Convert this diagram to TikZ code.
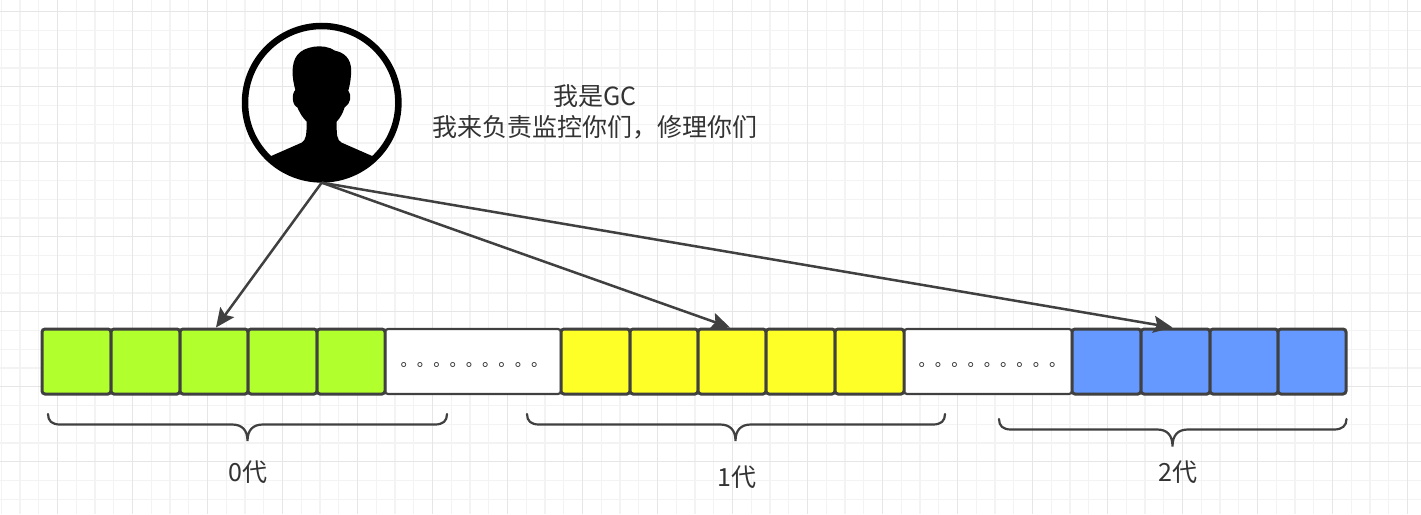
\documentclass[tikz,border=0pt]{standalone}
\usepackage{fontspec}
\newfontfamily\cjk{Noto Sans CJK SC}
\usetikzlibrary{arrows.meta}
\definecolor{lineink}{HTML}{404040}
\definecolor{textink}{HTML}{333333}
\definecolor{gridminor}{HTML}{F3F3F3}
\definecolor{gridmajor}{HTML}{E6E6E6}
\definecolor{cellgreen}{HTML}{B2FF2E}
\definecolor{cellyellow}{HTML}{FFFF28}
\definecolor{cellblue}{HTML}{6699FF}
\begin{document}
\begin{tikzpicture}[
    x=1pt,
    y=-1pt,
    >={Stealth[length=19pt,width=17pt,inset=3.5pt]},
    font=\cjk,
    cell/.style={draw=lineink,line width=3pt,rounded corners=3pt,inner sep=0pt,
        minimum height=65pt,anchor=center},
    hueco/.style={cell,line width=2.2pt,fill=white},
    puntos/.style={text=textink,inner sep=0pt,font=\cjk\fontsize{16.3}{16.3}\selectfont},
    pointer/.style={lineink,line width=2.5pt,->},
    bracket/.style={lineink,line width=2.2pt,line cap=round},
    etiqueta/.style={text=textink,inner sep=0pt,font=\cjk\fontsize{25}{31}\selectfont}
]
    \useasboundingbox (0,0) rectangle (1421,514);
    \fill[white] (0,0) rectangle (1421,514);

    % Fondo cuadriculado
    \foreach \i in {0,...,75}{
        \draw[gridminor,line width=1.3pt] (1.25+18.75*\i,0) -- (1.25+18.75*\i,514);
    }
    \foreach \i in {0,...,27}{
        \draw[gridminor,line width=1.3pt] (0,11.7+18.75*\i) -- (1421,11.7+18.75*\i);
    }
    \foreach \i in {0,...,18}{
        \draw[gridmajor,line width=1.3pt] (57.5+75*\i,0) -- (57.5+75*\i,514);
    }
    \foreach \i in {0,...,6}{
        \draw[gridmajor,line width=1.3pt] (0,11.7+75*\i) -- (1421,11.7+75*\i);
    }

    % Icono de la persona
    \begin{scope}
        \clip (321.7,102.7) circle (78);
        \begin{scope}[shift={(220,0)},x=0.3333pt,y=-0.3333pt]
            \fill[black] (140,474) -- (245,428)
                .. controls (258,420) and (260,405) .. (260,365)
                .. controls (245,350) and (238,335) .. (232,322)
                .. controls (215,315) and (215,280) .. (226,270)
                .. controls (216,235) and (212,190) .. (232,165)
                .. controls (250,140) and (310,128) .. (345,152)
                .. controls (385,160) and (397,190) .. (393,225)
                .. controls (392,245) and (388,260) .. (385,272)
                .. controls (396,285) and (392,312) .. (374,322)
                .. controls (368,340) and (362,352) .. (350,365)
                .. controls (350,405) and (350,420) .. (365,428)
                -- (470,474) -- (470,570) -- (140,570) -- cycle;
        \end{scope}
    \end{scope}
    \node[draw=black,line width=6.5pt,circle,minimum size=153.4pt,inner sep=0pt,outer sep=3.25pt]
        (gc) at (321.7,102.7) {};

    % Texto de arriba
    \node[etiqueta,align=center] (rotulo) at (595,112) {我是GC\\我来负责监控你们，修理你们};

    % Celdas de la barra
    \node[hueco,minimum width=176pt] (w1) at (473,361.5) {};
    \node[hueco,minimum width=168pt] (w2) at (988,361.5) {};
    \foreach \nombre/\xa/\xb/\relleno in {
        g1/42/111/cellgreen,g2/111/180/cellgreen,g3/180/248/cellgreen,g4/248/317/cellgreen,g5/317/385/cellgreen,
        y1/561/630/cellyellow,y2/630/698/cellyellow,y3/698/766/cellyellow,y4/766/835/cellyellow,y5/835/904/cellyellow,
        b1/1072/1141/cellblue,b2/1141/1210/cellblue,b3/1210/1278/cellblue,b4/1278/1346/cellblue}{
        \pgfmathsetmacro{\ancho}{\xb-\xa}
        \node[cell,fill=\relleno,minimum width=\ancho pt] (\nombre) at ({(\xa+\xb)/2},361.5) {};
    }
    \node[puntos] (puntos1) at (474,365) {。。。。。。。。。};
    \node[puntos] (puntos2) at (992,365) {。。。。。。。。。};

    % Flechas
    \draw[pointer] (gc.south) -- ([xshift=2pt]g3.north);
    \draw[pointer] (gc.south) -- ([xshift=-2pt]y3.north);
    \draw[pointer] (gc.south) -- ([xshift=-3pt]b2.north);

    % Llaves
    \draw[bracket] (48,414) .. controls (48,421) and (52,424.5) .. (60,424.5) -- (232,424.5)
        .. controls (242,424.5) and (247.5,430) .. (247.5,441)
        .. controls (247.5,430) and (253,424.5) .. (263,424.5) -- (435,424.5)
        .. controls (443,424.5) and (447,421) .. (447,414);
    \draw[bracket] (527,414) .. controls (527,421) and (531,424.5) .. (539,424.5) -- (720,424.5)
        .. controls (730,424.5) and (735.5,430) .. (735.5,441)
        .. controls (735.5,430) and (741,424.5) .. (751,424.5) -- (933,424.5)
        .. controls (941,424.5) and (945,421) .. (945,414);
    \draw[bracket] (999,419) .. controls (999,426) and (1003,429.5) .. (1011,429.5) -- (1157,429.5)
        .. controls (1167,429.5) and (1172.5,435) .. (1172.5,446.5)
        .. controls (1172.5,435) and (1178,429.5) .. (1188,429.5) -- (1334,429.5)
        .. controls (1342,429.5) and (1346.5,426) .. (1346.5,419);

    \node[etiqueta] (gen0) at (248,472) {0代};
    \node[etiqueta] (gen1) at (737,477) {1代};
    \node[etiqueta] (gen2) at (1178,472) {2代};
\end{tikzpicture}
\end{document}
